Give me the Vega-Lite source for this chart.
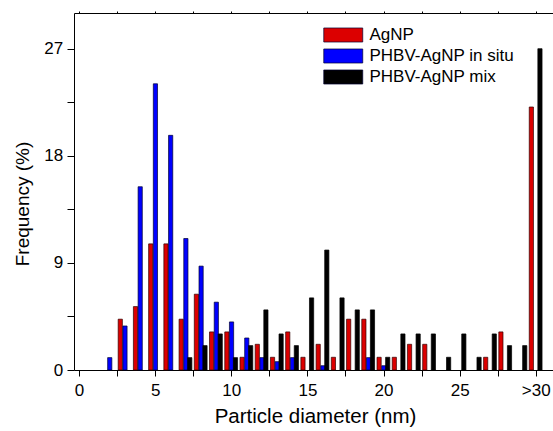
{
  "$schema": "https://vega.github.io/schema/vega-lite/v6.json",
  "width": 480,
  "height": 357,
  "autosize": {"type": "none"},
  "padding": {"left": 74, "top": 13, "right": 0, "bottom": 61},
  "background": "white",
  "config": {
    "font": "Liberation Sans",
    "view": {"stroke": null},
    "axis": {"domainColor": "#000", "tickColor": "#000", "labelColor": "#000", "titleColor": "#000", "grid": false, "titleFontWeight": "normal", "domainWidth": 1, "tickWidth": 1}
  },
  "data": {"values": [
    {"d": 3, "s": "AgNP", "f": 4.27}, {"d": 4, "s": "AgNP", "f": 5.33}, {"d": 5, "s": "AgNP", "f": 10.6}, {"d": 6, "s": "AgNP", "f": 10.6},
    {"d": 7, "s": "AgNP", "f": 4.27}, {"d": 8, "s": "AgNP", "f": 6.37}, {"d": 9, "s": "AgNP", "f": 3.2}, {"d": 10, "s": "AgNP", "f": 3.2},
    {"d": 11, "s": "AgNP", "f": 1.07}, {"d": 12, "s": "AgNP", "f": 2.16}, {"d": 13, "s": "AgNP", "f": 1.07}, {"d": 14, "s": "AgNP", "f": 3.2},
    {"d": 15, "s": "AgNP", "f": 1.07}, {"d": 16, "s": "AgNP", "f": 2.16}, {"d": 17, "s": "AgNP", "f": 1.07}, {"d": 18, "s": "AgNP", "f": 4.27},
    {"d": 19, "s": "AgNP", "f": 4.27}, {"d": 20, "s": "AgNP", "f": 1.07}, {"d": 21, "s": "AgNP", "f": 1.07}, {"d": 22, "s": "AgNP", "f": 2.16},
    {"d": 23, "s": "AgNP", "f": 2.16}, {"d": 27, "s": "AgNP", "f": 1.07}, {"d": 28, "s": "AgNP", "f": 3.2}, {"d": 30, "s": "AgNP", "f": 22.1},
    {"d": 2, "s": "PHBV-AgNP in situ", "f": 1.04}, {"d": 3, "s": "PHBV-AgNP in situ", "f": 3.7}, {"d": 4, "s": "PHBV-AgNP in situ", "f": 15.4},
    {"d": 5, "s": "PHBV-AgNP in situ", "f": 24.05}, {"d": 6, "s": "PHBV-AgNP in situ", "f": 19.72}, {"d": 7, "s": "PHBV-AgNP in situ", "f": 11.05},
    {"d": 8, "s": "PHBV-AgNP in situ", "f": 8.73}, {"d": 9, "s": "PHBV-AgNP in situ", "f": 5.7}, {"d": 10, "s": "PHBV-AgNP in situ", "f": 4.04},
    {"d": 11, "s": "PHBV-AgNP in situ", "f": 2.69}, {"d": 12, "s": "PHBV-AgNP in situ", "f": 1.04}, {"d": 13, "s": "PHBV-AgNP in situ", "f": 0.7},
    {"d": 14, "s": "PHBV-AgNP in situ", "f": 1.04}, {"d": 16, "s": "PHBV-AgNP in situ", "f": 0.36}, {"d": 19, "s": "PHBV-AgNP in situ", "f": 1.04},
    {"d": 20, "s": "PHBV-AgNP in situ", "f": 0.36},
    {"d": 7, "s": "PHBV-AgNP mix", "f": 1.04}, {"d": 8, "s": "PHBV-AgNP mix", "f": 2.05}, {"d": 9, "s": "PHBV-AgNP mix", "f": 3.03},
    {"d": 10, "s": "PHBV-AgNP mix", "f": 1.04}, {"d": 11, "s": "PHBV-AgNP mix", "f": 2.05}, {"d": 12, "s": "PHBV-AgNP mix", "f": 5.05},
    {"d": 13, "s": "PHBV-AgNP mix", "f": 3.03}, {"d": 14, "s": "PHBV-AgNP mix", "f": 2.05}, {"d": 15, "s": "PHBV-AgNP mix", "f": 6.06},
    {"d": 16, "s": "PHBV-AgNP mix", "f": 10.08}, {"d": 17, "s": "PHBV-AgNP mix", "f": 6.06}, {"d": 18, "s": "PHBV-AgNP mix", "f": 5.05},
    {"d": 19, "s": "PHBV-AgNP mix", "f": 5.05}, {"d": 20, "s": "PHBV-AgNP mix", "f": 1.07}, {"d": 21, "s": "PHBV-AgNP mix", "f": 3.03},
    {"d": 22, "s": "PHBV-AgNP mix", "f": 3.03}, {"d": 23, "s": "PHBV-AgNP mix", "f": 3.03}, {"d": 24, "s": "PHBV-AgNP mix", "f": 1.07},
    {"d": 25, "s": "PHBV-AgNP mix", "f": 3.03}, {"d": 26, "s": "PHBV-AgNP mix", "f": 1.07}, {"d": 27, "s": "PHBV-AgNP mix", "f": 3.03},
    {"d": 28, "s": "PHBV-AgNP mix", "f": 2.05}, {"d": 29, "s": "PHBV-AgNP mix", "f": 2.05}, {"d": 30, "s": "PHBV-AgNP mix", "f": 27.0}
  ]},
  "resolve": {"axis": {"x": "independent"}},
  "layer": [
    {
      "transform": [{"filter": "datum.s == 'AgNP'"}],
      "mark": {"type": "bar", "width": 4.2, "xOffset": -4.4, "stroke": "#300000", "strokeWidth": 0.7},
      "encoding": {
        "x": {"field": "d", "type": "quantitative", "scale": {"domain": [0, 30.87], "nice": false, "zero": false},
          "axis": {"orient": "bottom", "title": "Particle diameter (nm)", "values": [0, 2.5, 5, 7.5, 10, 12.5, 15, 17.5, 20, 22.5, 25, 27.5, 30],
            "labelExpr": "datum.value == 30 ? '>30' : (datum.value % 5 == 0 ? datum.label : '')", "labelFontSize": 17, "tickSize": 6, "labelPadding": 6.5,
            "labelFlush": false, "labelOverlap": false, "titleFontSize": 20.5, "titleX": 241, "titleY": 52, "titleBaseline": "alphabetic", "titleAlign": "center"}},
        "y": {"field": "f", "type": "quantitative", "scale": {"domain": [0, 30], "nice": false},
          "axis": {"title": "Frequency (%)", "values": [0, 4.5, 9, 13.5, 18, 22.5, 27], "labelExpr": "datum.value % 9 == 0 ? datum.label : ''",
            "labelFontSize": 17, "tickSize": 7, "labelPadding": 4.3, "titleFontSize": 19, "titleX": -46, "titleY": 190.5, "titleBaseline": "alphabetic", "titleAlign": "center", "titleAngle": -90}},
        "fill": {"field": "s", "type": "nominal",
          "scale": {"domain": ["AgNP", "PHBV-AgNP in situ", "PHBV-AgNP mix"], "range": ["#dc0000", "#0000ff", "#000000"]},
          "legend": {"orient": "none", "legendX": 258.75, "legendY": 11.5, "title": null, "symbolType": "M-2,-0.72H2V0.72H-2Z", "symbolSize": 380,
            "symbolStrokeColor": "#222", "symbolStrokeWidth": 0.7, "labelFontSize": 17, "labelOffset": 15.75, "rowPadding": 2, "padding": 0, "labelColor": "#000", "symbolOpacity": 1}}
      }
    },
    {
      "transform": [{"filter": "datum.s == 'PHBV-AgNP in situ'"}],
      "mark": {"type": "bar", "width": 4.2, "xOffset": 0.3, "stroke": "#000030", "strokeWidth": 0.7},
      "encoding": {
        "x": {"field": "d", "type": "quantitative", "axis": {"orient": "top", "title": null, "labels": false, "values": [0, 2.5, 5, 7.5, 10, 12.5, 15, 17.5, 20, 22.5, 25, 27.5, 30], "tickSize": 2}},
        "y": {"field": "f", "type": "quantitative"},
        "fill": {"field": "s", "type": "nominal"}
      }
    },
    {
      "transform": [{"filter": "datum.s == 'PHBV-AgNP mix'"}],
      "mark": {"type": "bar", "width": 4.2, "xOffset": 4.2, "stroke": "#000", "strokeWidth": 0.7},
      "encoding": {
        "x": {"field": "d", "type": "quantitative", "axis": null},
        "y": {"field": "f", "type": "quantitative"},
        "fill": {"field": "s", "type": "nominal"}
      }
    }
  ]
}
